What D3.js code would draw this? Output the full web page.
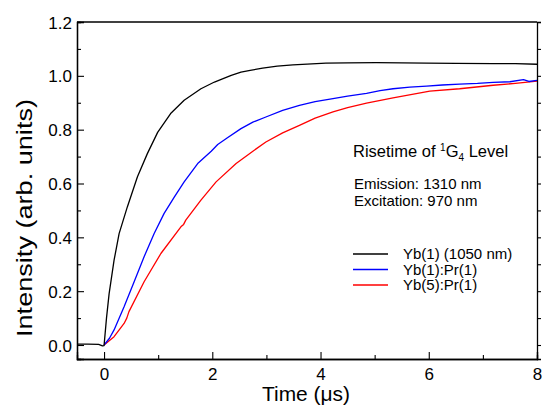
<!DOCTYPE html>
<html>
<head>
<meta charset="utf-8">
<script src="https://cdn.jsdelivr.net/npm/d3@7"></script>
<style>
  body { margin: 0; background: #fff; }
  text { font-family: "Liberation Sans", Arial, sans-serif; fill: #000; }
</style>
</head>
<body>
<svg id="chart" width="543" height="406"></svg>
<script>
// *** Data ***

var seriesNames = ["Yb(1) (1050 nm)", "Yb(1):Pr(1)", "Yb(5):Pr(1)"];
var seriesColors = ["#000000", "#0000ff", "#ff0000"];

// Yb(1) (1050 nm)
var timeBlack = [-0.5, -0.3, -0.1, -0.03, 0, 0.045, 0.093, 0.185, 0.278, 0.43, 0.617, 0.80, 0.99, 1.23, 1.48, 1.79,
    2.04, 2.2, 2.35, 2.53, 2.7, 2.93, 3.2, 3.49, 4.1, 4.5, 5.03, 5.5, 5.96, 6.5, 7.19, 7.6, 8];
var valueBlack = [0.003, 0.003, 0.002, -0.003, -0.002, 0.1, 0.19, 0.315, 0.414, 0.513, 0.625, 0.711, 0.79, 0.86, 0.909, 0.952,
    0.977, 0.99, 1.002, 1.014, 1.02, 1.029, 1.036, 1.041, 1.047, 1.048, 1.049, 1.048, 1.047, 1.046, 1.045, 1.045, 1.043];

// Yb(1):Pr(1)
var timeBlue = [0, 0.1, 0.185, 0.37, 0.556, 0.74, 0.926, 1.11, 1.30, 1.48, 1.73, 1.98, 2.1, 2.28, 2.53, 2.75, 2.99, 3.3, 3.61,
    3.9, 4.23, 4.5, 4.85, 5.1, 5.34, 5.65, 5.96, 6.25, 6.57, 6.9, 7.19, 7.5, 7.75, 7.85, 8];
var valueBlue = [0, 0.025, 0.056, 0.142, 0.235, 0.328, 0.414, 0.489, 0.55, 0.606, 0.674, 0.72, 0.745, 0.77, 0.804, 0.828, 0.847, 0.872, 0.89,
    0.904, 0.915, 0.925, 0.935, 0.945, 0.952, 0.958, 0.962, 0.966, 0.969, 0.972, 0.976, 0.978, 0.986, 0.979, 0.983];

// Yb(5):Pr(1)
var timeRed = [0, 0.185, 0.37, 0.42, 0.46, 0.74, 1.05, 1.42, 1.47, 1.51, 1.79, 2.07, 2.44, 2.75, 2.99, 3.3, 3.61, 3.9,
    4.23, 4.5, 4.85, 5.34, 6.02, 6.57, 7.19, 7.6, 8];
var valueRed = [0, 0.031, 0.08, 0.1, 0.124, 0.235, 0.34, 0.439, 0.448, 0.464, 0.538, 0.606, 0.674, 0.72, 0.754, 0.788, 0.816, 0.843,
    0.866, 0.882, 0.899, 0.918, 0.943, 0.952, 0.965, 0.972, 0.98];

var xTicks = [0, 2, 4, 6, 8];
var yTicks = [0.0, 0.2, 0.4, 0.6, 0.8, 1.0, 1.2];

// *** Chart building ***
var svg = d3.select("#chart");

var margin = {top: 22, right: 6, bottom: 47, left: 77},
    width = 543 - margin.left - margin.right,
    height = 406 - margin.top - margin.bottom;

var x = d3.scaleLinear().domain([-0.5, 8]).range([0, width]);
var y = d3.scaleLinear().domain([-0.052, 1.2]).range([height, 0]);

var chart = svg.append("g")
    .attr("transform", "translate(" + margin.left + "," + margin.top + ")");

chart.append("clipPath").attr("id", "clip")
    .append("rect").attr("width", width).attr("height", height);

// curves
var series = [
    {t: timeBlack, v: valueBlack},
    {t: timeBlue, v: valueBlue},
    {t: timeRed, v: valueRed}
];

var lineMaker = d3.line()
    .x(d => x(d[0]))
    .y(d => y(d[1]));

// draw red and blue first so black sits on top at baseline
[2, 1, 0].forEach(function(i) {
    var pts = series[i].t.map((t, j) => [t, series[i].v[j]]);
    chart.append("path")
        .attr("clip-path", "url(#clip)")
        .attr("fill", "none")
        .attr("stroke", seriesColors[i])
        .attr("stroke-width", 1.3)
        .attr("stroke-linejoin", "round")
        .attr("d", lineMaker(pts));
});

// axes: bottom (ticks inward), left (ticks inward), right (ticks outward), top plain
var xMinor = d3.range(0, 8.01, 1).filter(d => xTicks.indexOf(d) < 0);
var yMinor = d3.range(1, 12, 2).map(d => d / 10);

var xAxisG = chart.append("g").attr("transform", "translate(0," + height + ")");
xAxisG.call(d3.axisBottom(x).tickValues(xTicks).tickSize(-7).tickFormat(d3.format("d")));
xAxisG.append("g").call(d3.axisBottom(x).tickValues(xMinor).tickSize(-4).tickFormat(""));

var yAxisG = chart.append("g");
yAxisG.call(d3.axisLeft(y).tickValues(yTicks).tickSize(-7).tickFormat(d3.format(".1f")));
yAxisG.append("g").call(d3.axisLeft(y).tickValues(yMinor).tickSize(-4).tickFormat(""));

var rightG = chart.append("g").attr("transform", "translate(" + width + ",0)");
rightG.call(d3.axisRight(y).tickValues(yTicks.concat(yMinor)).tickSize(4).tickFormat(""));

chart.append("line")
    .attr("x1", 0).attr("x2", width).attr("y1", 0).attr("y2", 0)
    .attr("stroke", "#000").attr("stroke-width", 1.3);

chart.selectAll(".domain").attr("stroke", "#000").attr("stroke-width", 1.3);
chart.selectAll(".tick line").attr("stroke", "#000").attr("stroke-width", 1.1);
chart.selectAll(".tick text")
    .style("font-family", "'Liberation Sans', Arial, sans-serif")
    .style("font-size", "17px");
// ticks point inward, so put labels back next to the axis line
yAxisG.selectAll(".tick text").attr("x", -5).attr("dy", "0.36em");
xAxisG.selectAll(".tick text").attr("y", 9).attr("dy", "0.71em");

// axis titles (glyphs in the original are a bit wider than Liberation Sans)
svg.append("text")
    .attr("x", 262)
    .attr("y", 401)
    .attr("textLength", 88)
    .attr("lengthAdjust", "spacingAndGlyphs")
    .style("font-size", "19.5px")
    .text("Time (\u03bcs)");

svg.append("text")
    .attr("transform", "translate(32,337) rotate(-90)")
    .attr("textLength", 238)
    .attr("lengthAdjust", "spacingAndGlyphs")
    .style("font-size", "22.5px")
    .text("Intensity (arb. units)");

// annotation
var title = svg.append("text")
    .attr("x", 353).attr("y", 157)
    .style("font-size", "16.5px");
title.append("tspan").text("Risetime of ");
title.append("tspan").attr("dy", -6).style("font-size", "10px").text("1");
title.append("tspan").attr("dy", 6).text("G");
title.append("tspan").attr("dy", 4).style("font-size", "10px").text("4");
title.append("tspan").attr("dy", -4).text(" Level");

svg.append("text").attr("x", 354).attr("y", 189).style("font-size", "15px").text("Emission: 1310 nm");
svg.append("text").attr("x", 354).attr("y", 206).style("font-size", "15px").text("Excitation: 970 nm");

// legend
var legendG = svg.selectAll(".legend")
    .data(seriesNames).enter().append("g")
    .attr("class", "legend")
    .attr("transform", (d, i) => "translate(353," + (254 + i * 15.5) + ")");

legendG.append("line")
    .attr("x1", 0).attr("x2", 35).attr("y1", 0).attr("y2", 0)
    .attr("stroke", (d, i) => seriesColors[i])
    .attr("stroke-width", 1.5);

legendG.append("text")
    .attr("x", 50).attr("y", 5)
    .style("font-size", "15px")
    .text(d => d);
</script>
</body>
</html>
